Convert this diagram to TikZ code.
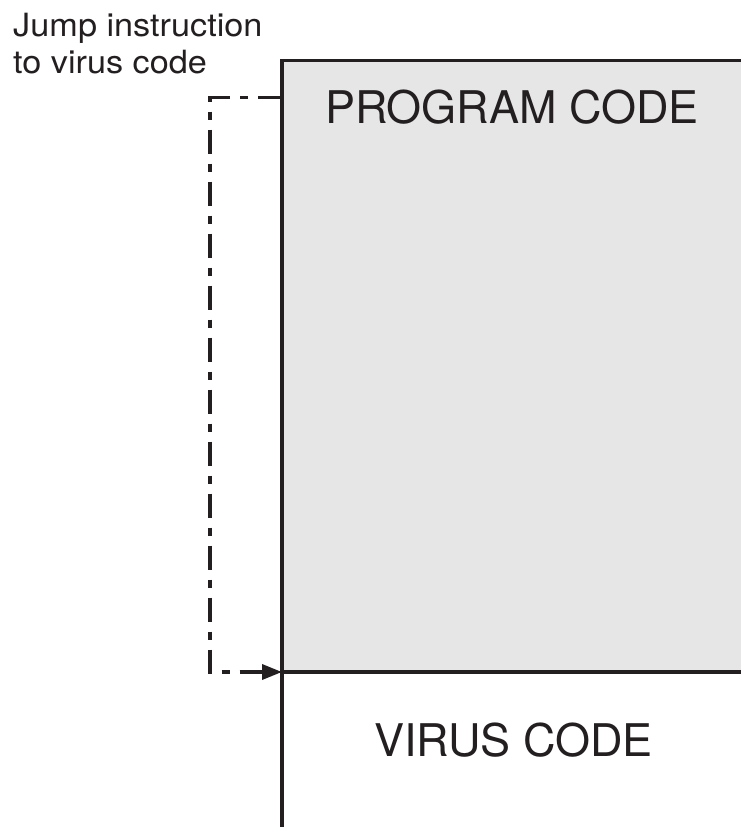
\documentclass[tikz,border=0pt]{standalone}
\usepackage{fontspec}
\setmainfont{TeX Gyre Heros}
\newfontfamily\jumpfont[FakeStretch=1.07]{TeX Gyre Heros}
\usetikzlibrary{arrows.meta, positioning}
\usepackage{xcolor}
\definecolor{codegray}{RGB}{230,230,230}
\definecolor{inkdark}{RGB}{35,31,32}
\tikzstyle{codebox}  = [rectangle, draw=inkdark, line width=3.5pt, inner sep=0pt, outer sep=0pt]
\tikzstyle{jumpline} = [draw=inkdark, line width=3.5pt, dash pattern=on 24pt off 10pt on 8pt off 10pt,
                        -{Triangle[length=20pt,width=15pt]}]

\begin{document}
\begin{tikzpicture}[x=1pt, y=1pt]
        \tikzstyle{biglbl}=[text=inkdark, inner sep=0pt, font=\fontsize{45}{54}\selectfont]
        \useasboundingbox (0,0) rectangle (740,-827);
        \node (prog) [codebox, fill=codegray, minimum width=480pt, minimum height=611.5pt,
                      anchor=north west] at (282,-60.5) {};
        \node (virus) [codebox, minimum width=480pt, minimum height=220pt,
                       anchor=north west] at (prog.south west) {};
        \node (progtxt) [biglbl, anchor=base] at (512,-123.5) {PROGRAM CODE};
        \node (virustxt) [biglbl, anchor=base] at (513.5,-756) {VIRUS CODE};
        \node (jumptxt) [text=inkdark, inner sep=0pt, anchor=north west, align=left,
                         font=\jumpfont\fontsize{32}{37}\selectfont] at (13,-12.5)
                         {Jump instruction\\to virus code};
        \coordinate (jumpfrom) at (prog.west |- 0,-97.5);
        \coordinate (jumpturn) at (210,-97.5);
        \draw[jumpline] (jumpfrom) -- (jumpturn) |- (prog.south west);
    \end{tikzpicture}
\end{document}
